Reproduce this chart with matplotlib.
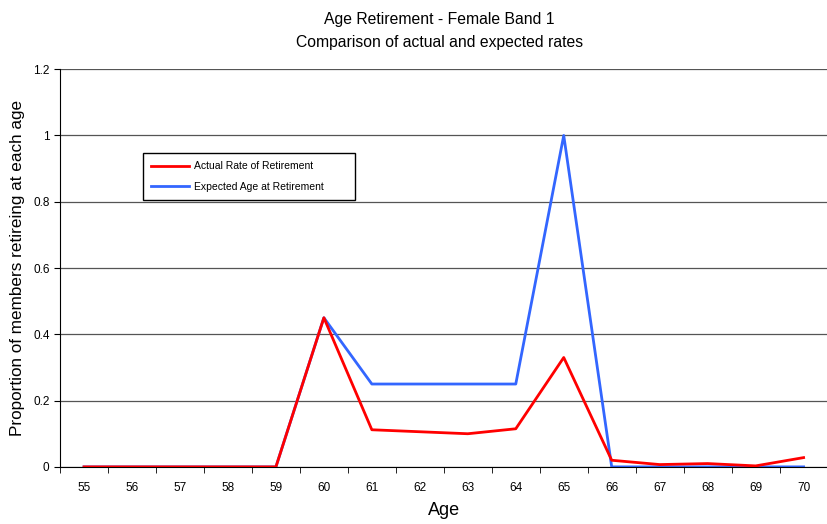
import matplotlib
matplotlib.use("Agg")
import matplotlib.pyplot as plt
import numpy as np

plt.rcParams["font.family"] = ["Liberation Sans Narrow", "Liberation Sans", "DejaVu Sans"]

ages = [55, 56, 57, 58, 59, 60, 61, 62, 63, 64, 65, 66, 67, 68, 69, 70]
actual = [0, 0, 0, 0, 0, 0.45, 0.112, 0.106, 0.10, 0.115, 0.33, 0.02, 0.007, 0.01, 0.003, 0.028]
expected = [0, 0, 0, 0, 0, 0.45, 0.25, 0.25, 0.25, 0.25, 1.0, 0, 0, 0, 0, 0]

fig = plt.figure(figsize=(8.28, 5.24), dpi=100)
ax = fig.add_axes([0.0725, 0.109, 0.927, 0.759])
x = np.arange(len(ages))

ax.plot(x, actual, color="#ff0000", lw=2, label="Actual Rate of Retirement", zorder=3)
ax.plot(x, expected, color="#3366ff", lw=2, label="Expected Age at Retirement", zorder=2)

ax.set_xlim(-0.5, len(ages) - 0.5)
ax.set_ylim(0, 1.2)
ax.set_yticks([0, 0.2, 0.4, 0.6, 0.8, 1.0, 1.2])
ax.set_yticklabels(["0", "0.2", "0.4", "0.6", "0.8", "1", "1.2"], fontsize=8.5)
ax.set_xticks(x)
ax.set_xticklabels([str(a) for a in ages], fontsize=8.5)
ax.set_xticks(np.arange(-0.5, len(ages) - 0.4, 1), minor=True)
ax.tick_params(axis="x", which="major", length=0, pad=11)
ax.tick_params(axis="x", which="minor", length=4, direction="out")
ax.tick_params(axis="y", length=4, direction="out")
ax.yaxis.grid(True, color="#555555", lw=0.9)
ax.set_axisbelow(True)
for s in ("top", "right"):
    ax.spines[s].set_visible(False)

ax.set_xlabel("Age", fontsize=13, labelpad=6)
ax.set_ylabel("Proportion of members retireing at each age", fontsize=12.3, labelpad=6)
fig.text(0.531, 0.962, "Age Retirement - Female Band 1", ha="center", va="center", fontsize=11.3)
fig.text(0.531, 0.918, "Comparison of actual and expected rates", ha="center", va="center", fontsize=11.3)

leg = ax.legend(loc="upper left", bbox_to_anchor=(0.108, 0.5, 0.2764, 0.289), mode="expand",
                borderaxespad=0, fontsize=7.5, fancybox=False, edgecolor="black",
                framealpha=1, handlelength=3.6, handletextpad=0.5,
                borderpad=0.8, labelspacing=1.0)
leg.get_frame().set_linewidth(1.0)

fig.savefig("out.png", dpi=100)
